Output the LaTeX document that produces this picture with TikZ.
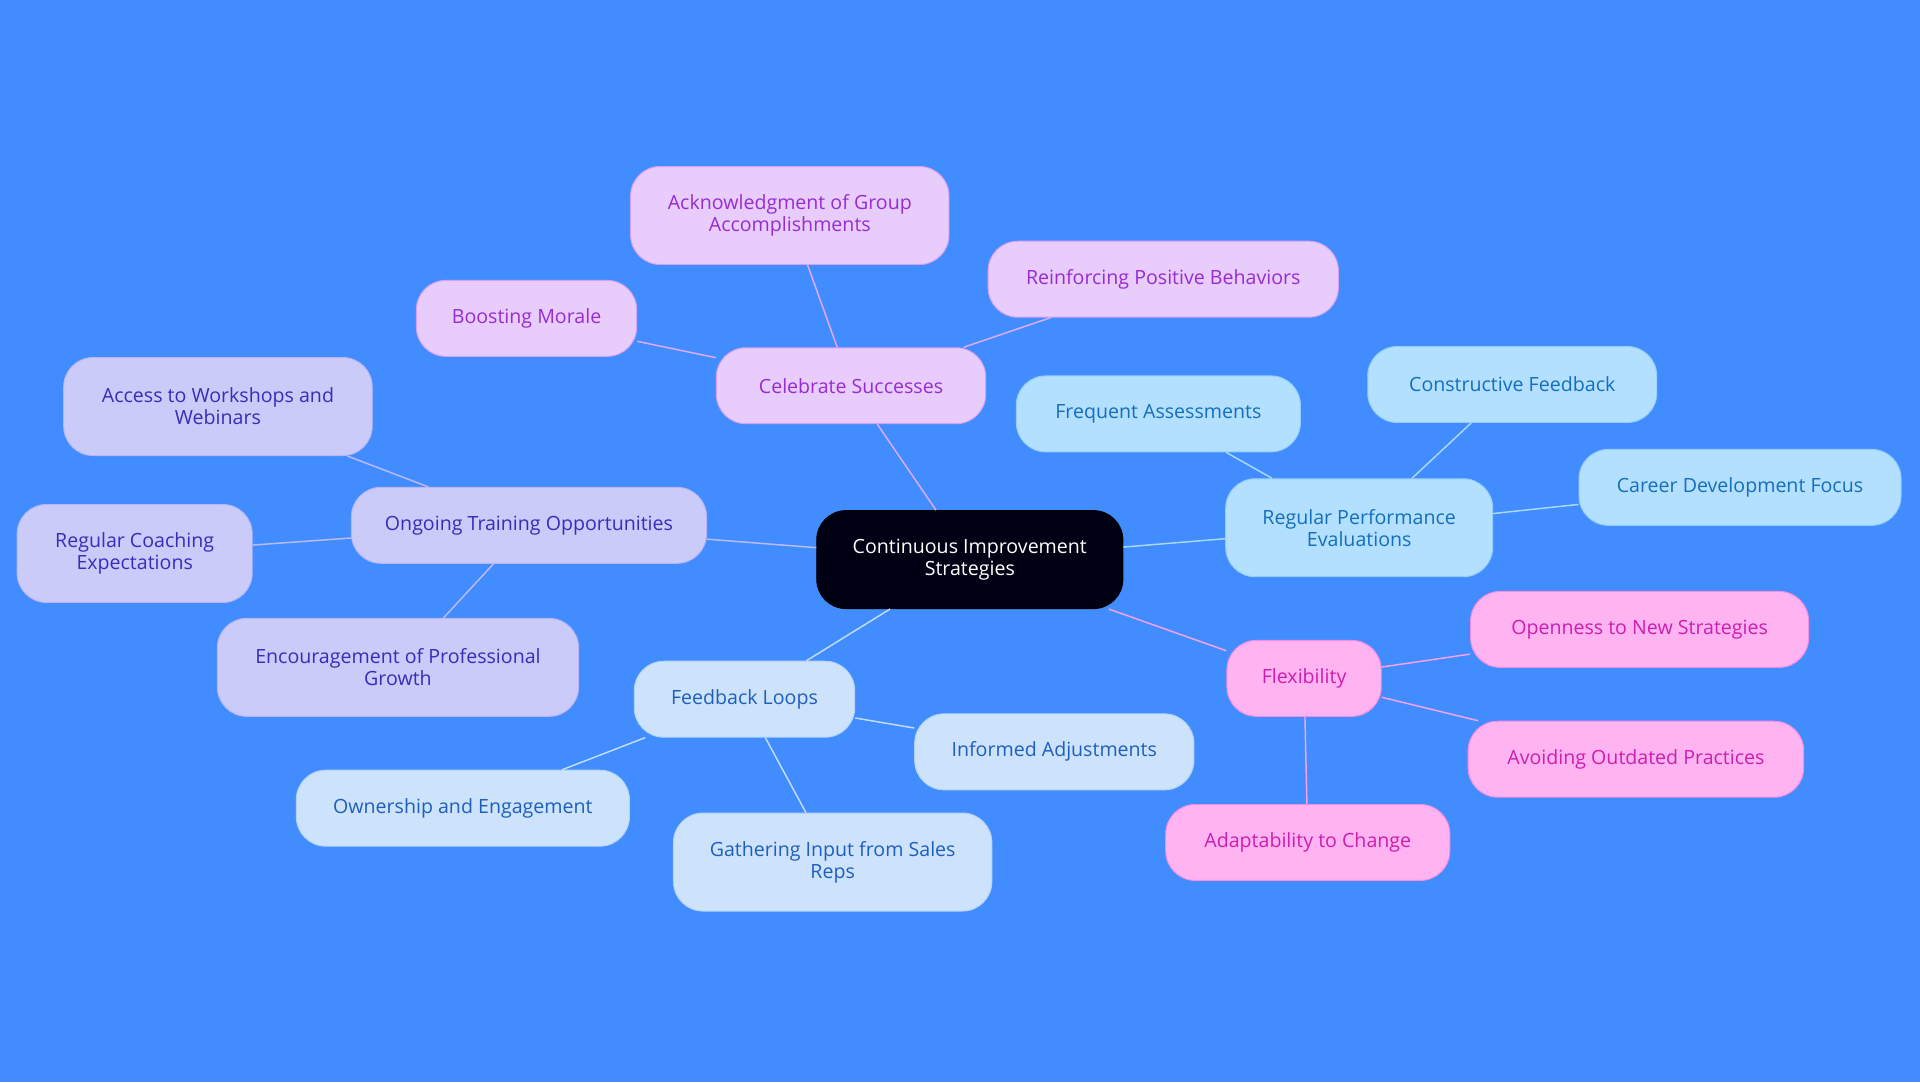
\documentclass[tikz,border=0pt]{standalone}
\usepackage{fontspec}
\setmainfont{Open Sans}
\begin{document}
\begin{tikzpicture}[x=1pt,y=-1pt,
 base/.style={rounded corners=24pt,draw,line width=0.8pt,align=center,font=\fontsize{16}{18}\selectfont,inner sep=0pt},
 cen/.style={base,fill=black!92!blue,draw=black,text=white},
 cel/.style={base,fill={rgb,255:red,232;green,204;blue,251},draw={rgb,255:red,214;green,160;blue,245},text={rgb,255:red,150;green,45;blue,210}},
 tra/.style={base,fill={rgb,255:red,203;green,203;blue,250},draw={rgb,255:red,185;green,180;blue,245},text={rgb,255:red,55;green,45;blue,185}},
 per/.style={base,fill={rgb,255:red,179;green,224;blue,255},draw={rgb,255:red,150;green,205;blue,250},text={rgb,255:red,20;green,110;blue,190}},
 fbl/.style={base,fill={rgb,255:red,205;green,227;blue,251},draw={rgb,255:red,180;green,210;blue,245},text={rgb,255:red,30;green,95;blue,190}},
 flx/.style={base,fill={rgb,255:red,255;green,179;blue,240},draw={rgb,255:red,245;green,140;blue,225},text={rgb,255:red,205;green,30;blue,175}},
 e/.style={line width=1.2pt}]
\fill[fill={rgb,255:red,65;green,141;blue,255}] (0,0) rectangle (1568,884);
\useasboundingbox (0,0) rectangle (1568,884);
\node[cen,minimum width=250,minimum height=80] (c) at (792,457) {Continuous Improvement\\Strategies};
\node[cel,minimum width=220,minimum height=62] (cs) at (695,315) {Celebrate Successes};
\node[cel,minimum width=260,minimum height=80] (ack) at (645,176) {Acknowledgment of Group\\Accomplishments};
\node[cel,minimum width=286,minimum height=62] (rein) at (950,228) {Reinforcing Positive Behaviors};
\node[cel,minimum width=180,minimum height=62] (boost) at (430,260) {Boosting Morale};
\node[tra,minimum width=290,minimum height=62] (ot) at (432,429) {Ongoing Training Opportunities};
\node[tra,minimum width=252,minimum height=80] (acc) at (178,332) {Access to Workshops and\\Webinars};
\node[tra,minimum width=192,minimum height=80] (coach) at (110,452) {Regular Coaching\\Expectations};
\node[tra,minimum width=295,minimum height=80] (enc) at (325,545) {Encouragement of Professional\\Growth};
\node[per,minimum width=218,minimum height=80] (rp) at (1110,431) {Regular Performance\\Evaluations};
\node[per,minimum width=232,minimum height=62] (fa) at (946,338) {Frequent Assessments};
\node[per,minimum width=236,minimum height=62] (cf) at (1235,314) {Constructive Feedback};
\node[per,minimum width=263,minimum height=62] (cd) at (1421,398) {Career Development Focus};
\node[flx,minimum width=126,minimum height=62] (fx) at (1065,554) {Flexibility};
\node[flx,minimum width=276,minimum height=62] (op) at (1339,514) {Openness to New Strategies};
\node[flx,minimum width=274,minimum height=62] (av) at (1336,620) {Avoiding Outdated Practices};
\node[flx,minimum width=232,minimum height=62] (ad) at (1068,688) {Adaptability to Change};
\node[fbl,minimum width=180,minimum height=62] (fl) at (608,571) {Feedback Loops};
\node[fbl,minimum width=228,minimum height=62] (ia) at (861,614) {Informed Adjustments};
\node[fbl,minimum width=272,minimum height=62] (own) at (378,660) {Ownership and Engagement};
\node[fbl,minimum width=260,minimum height=80] (gi) at (680,704) {Gathering Input from Sales\\Reps};
\begin{scope}[on background layer/.try]
\end{scope}
\begin{pgfinterruptboundingbox}\end{pgfinterruptboundingbox}
\draw[e,draw={rgb,255:red,225;green,170;blue,250}] (c) -- (cs) (cs) -- (ack) (cs) -- (rein) (cs) -- (boost);
\draw[e,draw={rgb,255:red,190;green,185;blue,245}] (c) -- (ot) (ot) -- (acc) (ot) -- (coach) (ot) -- (enc);
\draw[e,draw={rgb,255:red,170;green,215;blue,250}] (c) -- (rp) (rp) -- (fa) (rp) -- (cf) (rp) -- (cd);
\draw[e,draw={rgb,255:red,250;green,160;blue,235}] (c) -- (fx) (fx) -- (op) (fx) -- (av) (fx) -- (ad);
\draw[e,draw={rgb,255:red,195;green,220;blue,250}] (c) -- (fl) (fl) -- (ia) (fl) -- (own) (fl) -- (gi);
\end{tikzpicture}
\end{document}
